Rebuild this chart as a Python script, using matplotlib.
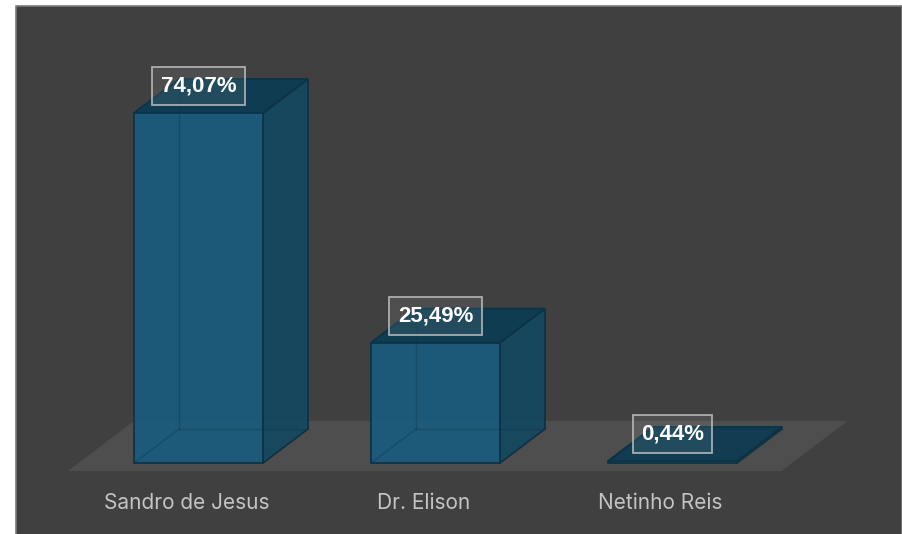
import matplotlib.pyplot as plt
from matplotlib.patches import Polygon, Rectangle

# dados do gráfico
candidatos = ['Sandro de Jesus', 'Dr. Elison', 'Netinho Reis']
percentuais = [74.07, 25.49, 0.44]
rotulos = ['74,07%', '25,49%', '0,44%']

BG = '#404040'
FLOOR = '#4e4e4e'
FRONT = '#1b5b7b'
SIDE = '#15485f'
TOP = '#0f3c52'
EDGE = '#0c3246'

W = 903
H = 534
fig = plt.figure(figsize=(W / 100, H / 100), dpi=100)
fig.patch.set_facecolor('white')

# área do gráfico (fundo escuro com borda cinza)
fig.patches.append(Rectangle((16 / W, -0.05), (902 - 16) / W, (H - 6) / H + 0.05,
                             transform=fig.transFigure, facecolor=BG,
                             edgecolor='#7a7a7a', linewidth=1.2, zorder=-5))

ax = fig.add_axes([0, 0, 1, 1])
ax.set_facecolor('none')
ax.axis('off')

# escala: 237 px por categoria, 4.725 px por ponto percentual
px_x = 237.0
px_y = 4.725
ax.set_xlim(-198.5 / px_x, (W - 198.5) / px_x)
ax.set_ylim(-71 / px_y, (H - 71) / px_y)

half = 129 / px_x / 2
dx = 45 / px_x
dy = 34 / px_y

# piso 3D
fdx = 66 / px_x
fdy = 50 / px_y
f0 = -8 / px_y
fl = -0.551
fr = len(candidatos) - 1 + 0.46
ax.add_patch(Polygon([(fl, f0), (fr, f0), (fr + fdx, f0 + fdy), (fl + fdx, f0 + fdy)],
                     closed=True, facecolor=FLOOR, edgecolor='none', zorder=1))

for i, v in enumerate(percentuais):
    x0 = i - half
    x1 = i + half
    side = [(x1, 0), (x1 + dx, dy), (x1 + dx, v + dy), (x1, v)]
    top = [(x0, v), (x1, v), (x1 + dx, v + dy), (x0 + dx, v + dy)]
    ax.add_patch(Polygon(side, closed=True, facecolor=SIDE, edgecolor=EDGE,
                         lw=1.3, alpha=0.95, zorder=3))
    ax.add_patch(Polygon(top, closed=True, facecolor=TOP, edgecolor=EDGE,
                         lw=1.3, alpha=0.97, zorder=3))
    ax.add_patch(Rectangle((x0, 0), x1 - x0, v, facecolor=FRONT, edgecolor=EDGE,
                           lw=1.3, alpha=0.96, zorder=4))
    # arestas de trás (aparecem pela transparência)
    ax.plot([x0 + dx, x0 + dx], [dy, v + dy], color=EDGE, lw=1, alpha=0.35, zorder=5)
    ax.plot([x0 + dx, x1 + dx], [dy, dy], color=EDGE, lw=1, alpha=0.35, zorder=5)
    ax.plot([x0, x0 + dx], [0, dy], color=EDGE, lw=1, alpha=0.35, zorder=5)

    ax.text(i, v + 27 / px_y, rotulos[i], ha='center', va='center',
            fontsize=16, fontweight='bold', color='white',
            family=['Liberation Sans', 'DejaVu Sans'], zorder=6,
            bbox=dict(boxstyle='square,pad=0.38', facecolor=(1, 1, 1, 0.08),
                      edgecolor=(0.75, 0.75, 0.75, 0.85), linewidth=1.3))

    ax.text(i - 12 / px_x, -40 / px_y, candidatos[i], ha='center', va='center',
            fontsize=15, color='#c4c4c4', family=['Inter', 'DejaVu Sans'], zorder=6)

fig.savefig('out.png', dpi=100, facecolor=fig.get_facecolor())
